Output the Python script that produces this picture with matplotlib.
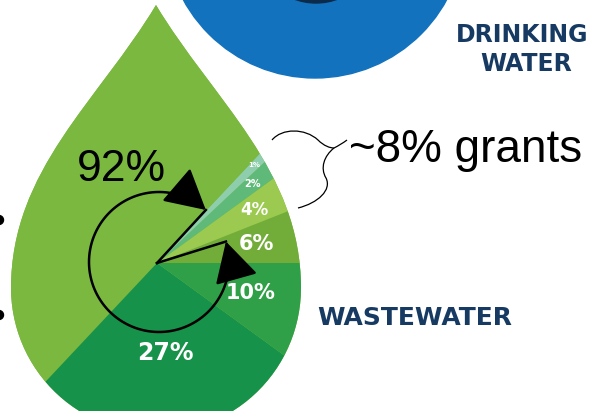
import numpy as np
import matplotlib
matplotlib.use("Agg")
import matplotlib.pyplot as plt
from matplotlib.path import Path
from matplotlib.patches import PathPatch, Wedge, Circle, FancyArrowPatch

# pie slices, counter-clockwise starting at 3 o'clock
slice_values = [6, 4, 2, 1, 50, 27, 10]
slice_labels = ["6%", "4%", "2%", "1%", "", "27%", "10%"]
slice_colors = ["#72ad3a", "#9cc94f", "#5fba79", "#8fceac", "#7ab840", "#17924a", "#30a048"]
label_radius = [101, 111, 124, 138, 0, 90, 98]
label_sizes = [15, 12, 7, 5, 0, 17, 15]

share_text = "92%"
grants_text = "~8% grants"
share_angles = [48, 377]   # where the hand drawn 92% arc starts / ends

W, H = 592, 411
fig = plt.figure(figsize=(W / 100, H / 100), dpi=100)
ax = fig.add_axes([0, 0, 1, 1])
ax.set_xlim(0, W)
ax.set_ylim(H, 0)   # image style coordinates, y goes down
ax.axis("off")

# blue drinking water circle at the top
ax.add_patch(Circle((315, -72), 150, color="#1272bd", zorder=1))
ax.add_patch(Circle((316, -59), 62, color="#0c2b4b", zorder=2))

# water drop outline: two curved sides + round bottom
cx, cy, R = 156, 288, 145
phi = np.radians(np.linspace(180, 360, 60))
arc = [(cx + R * np.cos(p), cy - R * np.sin(p)) for p in phi]
verts = [(156, 5), (99, 100), (11, 170), (11, cy)]
codes = [Path.MOVETO, Path.CURVE4, Path.CURVE4, Path.CURVE4]
verts += arc[1:]
codes += [Path.LINETO] * (len(arc) - 1)
verts += [(301, 170), (213, 100), (156, 5), (156, 5)]
codes += [Path.CURVE4, Path.CURVE4, Path.CURVE4, Path.CLOSEPOLY]
drop = PathPatch(Path(verts, codes), facecolor=slice_colors[4], edgecolor="none", zorder=3)
ax.add_patch(drop)

# pie slices clipped by the drop
pc = (157, 263)
start = 0.0
for val, lab, col, lr, fs in zip(slice_values, slice_labels, slice_colors, label_radius, label_sizes):
    span = val / sum(slice_values) * 360
    w = Wedge(pc, 400, -(start + span), -start, facecolor=col, edgecolor="none", zorder=4)
    ax.add_patch(w)
    w.set_clip_path(drop)
    if lab:
        mid = np.radians(start + span / 2)
        ax.text(pc[0] + lr * np.cos(mid), pc[1] - lr * np.sin(mid), lab,
                color="white", fontsize=fs, fontweight="bold", ha="center", va="center", zorder=6)
    start += span

# hand drawn 92% arrow around the pie centre
ac, ar = (159, 262), 70
t = np.radians(np.linspace(share_angles[0], share_angles[1], 120))
arc_pts = np.column_stack([ac[0] + ar * np.cos(t), ac[1] - ar * np.sin(t)])
arrow = FancyArrowPatch(path=Path(arc_pts), arrowstyle="<|-|>,head_length=1.1,head_width=0.6",
                        mutation_scale=23, color="black", lw=1.8, shrinkA=0, shrinkB=0, zorder=7)
ax.add_patch(arrow)
for end in (arc_pts[0], arc_pts[-1]):
    ax.plot([pc[0], end[0]], [pc[1], end[1]], color="black", lw=1.8, zorder=7)

ax.text(121, 181, share_text, fontsize=32, family="Liberation Sans", color="black",
        ha="center", va="baseline", zorder=7)

# curly brace pointing at the grants text
b_verts = [(272, 140), (282, 128), (305, 128), (318, 140),
           (324, 146), (330, 148), (334, 148),
           (338, 146), (343, 143), (347, 140)]
b_codes = [Path.MOVETO] + [Path.CURVE4] * 9
l_verts = [(334, 148), (324, 156), (320, 168), (326, 178),
           (332, 190), (318, 203), (298, 208)]
l_codes = [Path.MOVETO] + [Path.CURVE4] * 6
ax.add_patch(PathPatch(Path(b_verts, b_codes), facecolor="none", edgecolor="black", lw=0.9, zorder=7))
ax.add_patch(PathPatch(Path(l_verts, l_codes), facecolor="none", edgecolor="black", lw=0.9, zorder=7))

ax.text(349, 162, grants_text, fontsize=33, family="Liberation Sans", color="black",
        ha="left", va="baseline", zorder=7)

# titles
ax.text(522, 35, "DRINKING", fontsize=17, fontweight="bold", color="#173a63", ha="center", va="center")
ax.text(526, 64, "WATER", fontsize=17, fontweight="bold", color="#173a63", ha="center", va="center")
ax.text(415, 318, "WASTEWATER", fontsize=18, fontweight="bold", color="#173a63", ha="center", va="center")

# bullet dots cut at the left border
for y in (220, 315):
    ax.add_patch(Circle((-1, y), 4.5, color="black", zorder=2))

fig.savefig("out.png", dpi=100)
